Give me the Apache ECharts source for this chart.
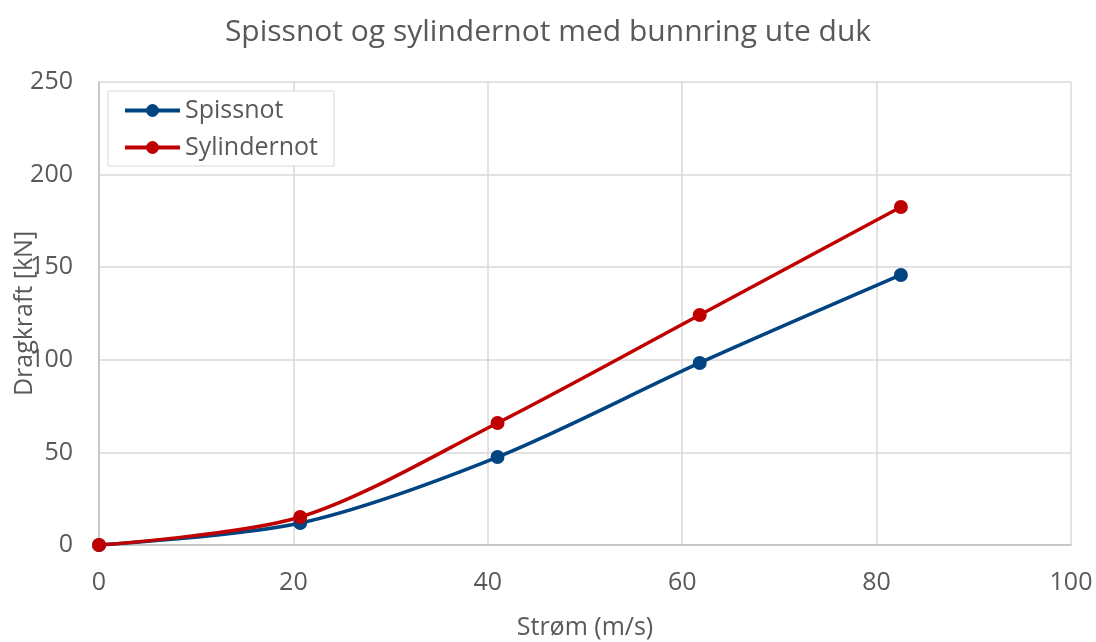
<!DOCTYPE html>
<html>
<head>
<meta charset="utf-8">
<script src="https://cdn.jsdelivr.net/npm/echarts@6/dist/echarts.min.js"></script>
<style>
  html, body { margin: 0; padding: 0; background: #fff; }
  #chart { width: 1096px; height: 642px; }
</style>
</head>
<body>
<div id="chart"></div>
<script>
// values
const stromX = [0, 20.7, 41.0, 61.8, 82.5]
const spissnot = [0, 11.9, 47.5, 98.3, 145.8]
const sylindernot = [0, 15.1, 65.9, 124.2, 182.5]

const font = 'Open Sans'
const textGrey = '#595959'

const chart = echarts.init(document.getElementById('chart'))

function pairs(ys) {
  return stromX.map((x, i) => [x, ys[i]])
}

const option = {
  animation: false,
  title: {
    text: 'Spissnot og sylindernot med bunnring ute duk',
    left: 'center',
    top: 12,
    textStyle: { fontFamily: font, fontSize: 30, fontWeight: 'normal', color: textGrey }
  },
  legend: {
    left: 108,
    top: 91,
    orient: 'vertical',
    itemWidth: 55,
    itemHeight: 16,
    itemGap: 12,
    padding: [7, 16, 6, 15],
    borderColor: '#d9d9d9',
    borderWidth: 1,
    backgroundColor: '#fff',
    lineStyle: { width: 4 },
    textStyle: { fontFamily: font, fontSize: 25, color: textGrey },
    data: ['Spissnot', 'Sylindernot']
  },
  grid: { left: 99, right: 25, top: 82, bottom: 97, outerBoundsMode: 'none' },
  xAxis: {
    type: 'value',
    min: 0,
    max: 100,
    interval: 20,
    name: 'Strøm (m/s)',
    nameLocation: 'middle',
    nameGap: 70,
    nameMoveOverlap: false,
    nameTextStyle: { fontFamily: font, fontSize: 25, color: textGrey },
    axisLine: { show: true, lineStyle: { color: '#bfbfbf', width: 1.5 } },
    axisTick: { show: false },
    axisLabel: { fontFamily: font, fontSize: 25, color: textGrey, margin: 25 },
    splitLine: { show: true, lineStyle: { color: '#d9d9d9', width: 1.5 } }
  },
  yAxis: {
    type: 'value',
    min: 0,
    max: 250,
    interval: 50,
    name: 'Dragkraft [kN]',
    nameLocation: 'middle',
    nameGap: 62,
    nameMoveOverlap: false,
    nameTextStyle: { fontFamily: font, fontSize: 25, color: textGrey },
    axisLine: { show: true, lineStyle: { color: '#bfbfbf', width: 1.5 } },
    axisTick: { show: false },
    axisLabel: { fontFamily: font, fontSize: 25, color: textGrey, margin: 26 },
    splitLine: { show: true, lineStyle: { color: '#d9d9d9', width: 1.5 } }
  },
  series: [
    {
      name: 'Spissnot',
      type: 'line',
      data: pairs(spissnot),
      smooth: 0.3,
      symbol: 'circle',
      symbolSize: 14,
      itemStyle: { color: '#004481' },
      lineStyle: { color: '#004481', width: 3.5 }
    },
    {
      name: 'Sylindernot',
      type: 'line',
      data: pairs(sylindernot),
      smooth: 0.3,
      symbol: 'circle',
      symbolSize: 14,
      itemStyle: { color: '#c00000' },
      lineStyle: { color: '#c00000', width: 3.5 }
    }
  ]
}

chart.setOption(option)
</script>
</body>
</html>
